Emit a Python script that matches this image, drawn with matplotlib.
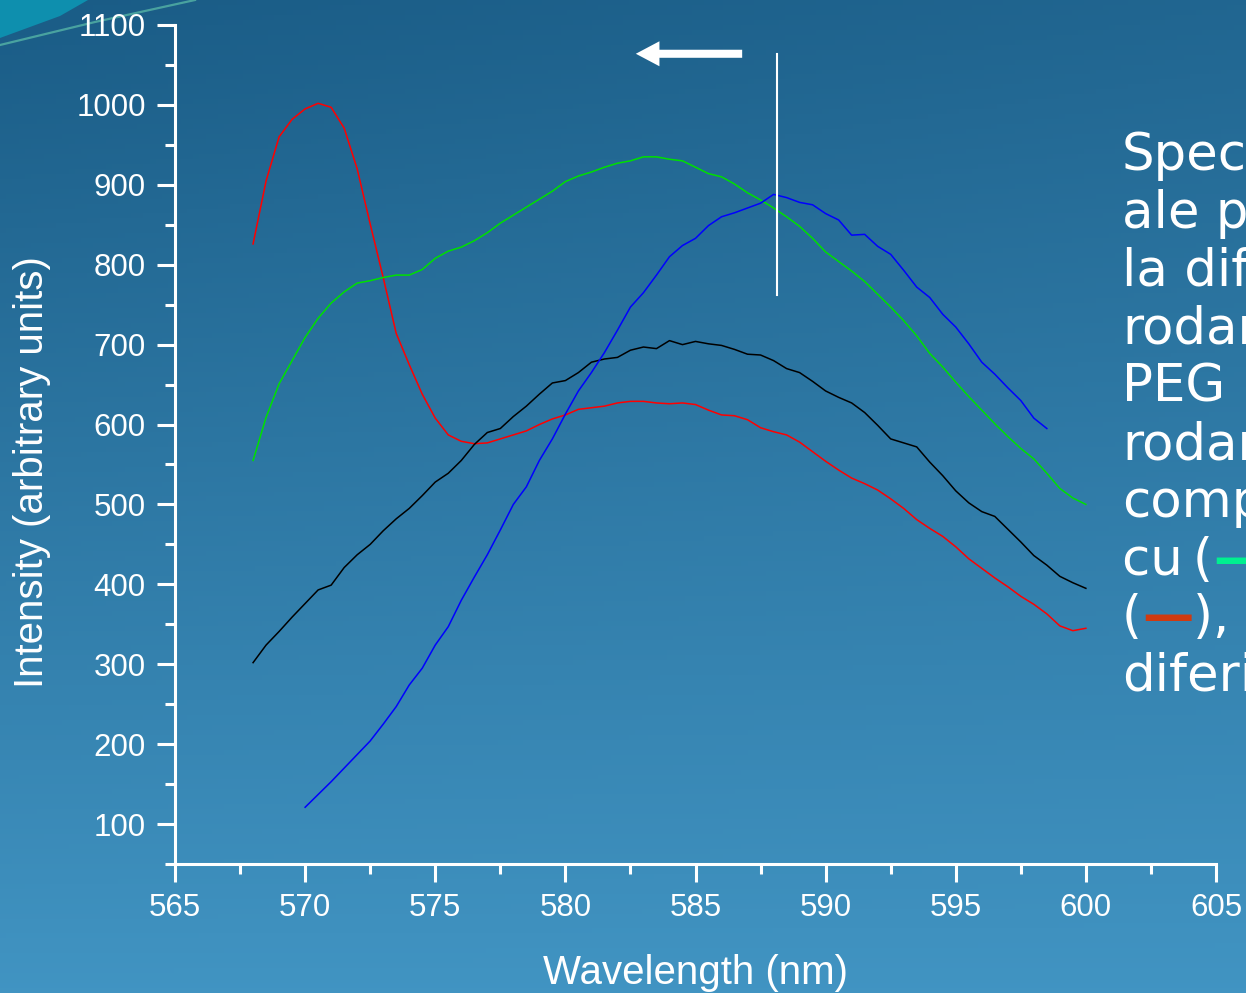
import matplotlib
matplotlib.use("Agg")
import matplotlib.pyplot as plt
import numpy as np
from matplotlib.patches import Polygon, FancyArrowPatch
from matplotlib.ticker import MultipleLocator

# ----- data -----
wl = np.arange(568.0, 600.01, 0.5)          # 568 .. 600 nm
wl_blue = np.arange(570.0, 598.51, 0.5)     # 570 .. 598.5 nm

red = [826, 905, 960, 982, 995, 1002, 997, 971, 920, 851, 784, 714, 675,
       638, 608, 587, 579, 576, 577, 582, 587, 592, 600, 607, 612, 619,
       621, 623, 627, 629, 629, 627, 626, 627, 625, 618, 612, 611, 606,
       596, 591, 587, 578, 566, 554, 543, 533, 526, 518, 507, 495, 481,
       470, 460, 447, 432, 420, 408, 397, 385, 375, 363, 348, 342, 345]

black = [302, 324, 341, 359, 376, 393, 399, 421, 437, 450, 467, 482, 495,
         511, 528, 539, 555, 575, 590, 595, 610, 623, 638, 652, 655, 665,
         678, 682, 684, 693, 697, 695, 705, 700, 704, 701, 699, 694, 688,
         687, 680, 670, 665, 654, 642, 634, 627, 615, 599, 582, 577, 572,
         553, 536, 517, 502, 491, 485, 469, 453, 436, 424, 410, 402, 395]

green = [555, 609, 651, 680, 709, 733, 752, 766, 777, 780, 784, 787, 787,
         794, 808, 817, 822, 830, 840, 852, 862, 872, 882, 892, 904, 911,
         916, 922, 927, 930, 935, 935, 932, 930, 922, 914, 910, 901, 890,
         881, 871, 860, 848, 833, 816, 804, 792, 779, 763, 747, 730, 711,
         689, 672, 653, 635, 618, 601, 585, 570, 557, 539, 520, 508, 500]

blue = [121, 137, 153, 170, 187, 204, 225, 247, 274, 295, 324, 347, 380,
        409, 437, 468, 500, 522, 555, 582, 613, 642, 665, 690, 718, 747,
        765, 787, 810, 824, 833, 849, 860, 865, 871, 877, 888, 884, 878,
        875, 864, 856, 837, 838, 823, 813, 793, 772, 759, 738, 722, 701,
        678, 663, 646, 630, 608, 595]

side_lines = ["Spectrele", "ale probelor", "la diferite", "rodamină", "PEG",
              "rodamină", "complexată"]

W, H = 1246, 993
fig = plt.figure(figsize=(W / 100, H / 100), dpi=100)

# ----- slide background -----
bg = fig.add_axes([0, 0, 1, 1])
yy, xx = np.mgrid[0:1:200j, 0:1:200j]
top = np.array([26, 92, 134]) / 255
bot = np.array([72, 158, 205]) / 255
grad = top + (bot - top) * (0.85 * yy + 0.15 * xx * (1 - yy))[..., None]
bg.imshow(grad, extent=[0, 1, 0, 1], aspect="auto", origin="upper")
bg.set_xlim(0, 1)
bg.set_ylim(0, 1)
bg.axis("off")

def px(x, y):
    return x / W, 1 - y / H

teal = [px(0, 0), px(88, 0), px(60, 16), px(30, 27), px(0, 38)]
bg.add_patch(Polygon(teal, closed=True, color="#0e8fae", lw=0))
streak = [px(0, 45), px(95, 22), px(195, 0)]
bg.plot([p[0] for p in streak], [p[1] for p in streak],
        color="#6fdcb4", lw=1.6, alpha=0.55)

# ----- chart -----
ax = fig.add_axes([175 / W, 1 - 864 / H, (1216 - 175) / W, (864 - 25) / H])
ax.patch.set_alpha(0)

ax.plot(wl, red, color="#ff0000", lw=1.1)
ax.plot(wl, black, color="#000000", lw=1.1)
ax.plot(wl, green, color="#00e000", lw=1.1)
ax.plot(wl_blue, blue, color="#0000ff", lw=1.1)

ax.set_xlim(565, 605)
ax.set_ylim(50, 1100)
ax.xaxis.set_major_locator(MultipleLocator(5))
ax.xaxis.set_minor_locator(MultipleLocator(2.5))
ax.yaxis.set_minor_locator(MultipleLocator(50))
ax.set_yticks(np.arange(100, 1101, 100))

for s in ("top", "right"):
    ax.spines[s].set_visible(False)
for s in ("left", "bottom"):
    ax.spines[s].set_color("white")
    ax.spines[s].set_linewidth(2.2)

ax.tick_params(which="major", length=13, width=2.2, color="white",
               labelcolor="white", labelsize=22.5, direction="out")
ax.tick_params(which="minor", length=7, width=2.2, color="white",
               direction="out")
ax.tick_params(axis="y", which="major", pad=8)
ax.tick_params(axis="x", which="major", pad=8)
for lab in ax.get_xticklabels() + ax.get_yticklabels():
    lab.set_family("Liberation Sans")

ax.set_xlabel("Wavelength (nm)", color="white", fontsize=29,
              family="Liberation Sans", labelpad=22)
ax.set_ylabel("Intensity (arbitrary units)", color="white", fontsize=29,
              family="Liberation Sans")
ax.yaxis.set_label_coords(-0.119, 0.467)

# marker line and arrow
ax.plot([588.14, 588.14], [762, 1064], color="white", lw=1.5)
ax.add_patch(FancyArrowPatch((586.9, 1064), (582.6, 1064),
                             arrowstyle="simple,head_length=17,head_width=18,tail_width=5.8",
                             mutation_scale=1, color="white", lw=0))

# ----- side text (cut at slide edge) -----
x0 = 1122 / W
base = 170
step = 57.8
fs = 37
for i, t in enumerate(side_lines):
    fig.text(x0, 1 - (base + i * step) / H, t, color="white", fontsize=fs,
             family="DejaVu Sans", va="baseline")

renderer = fig.canvas.get_renderer()

def pieces(y, parts):
    x = x0
    for txt, col, bold in parts:
        t = fig.text(x, 1 - y / H, txt, color=col, fontsize=fs,
                     family="DejaVu Sans", va="baseline",
                     fontweight="bold" if bold else "normal")
        bb = t.get_window_extent(renderer)
        x += bb.width / W

pieces(base + 7 * step, [("cu\u2009(", "white", False), ("—", "#00f090", True),
                         (")", "white", False)])
pieces(base + 8 * step, [("(", "white", False), ("—", "#d03a10", True),
                         ("), fluor", "white", False)])
fig.text(x0, 1 - (base + 9 * step) / H, "diferite", color="white",
         fontsize=fs, family="DejaVu Sans", va="baseline")

fig.savefig("out.png", dpi=100)
